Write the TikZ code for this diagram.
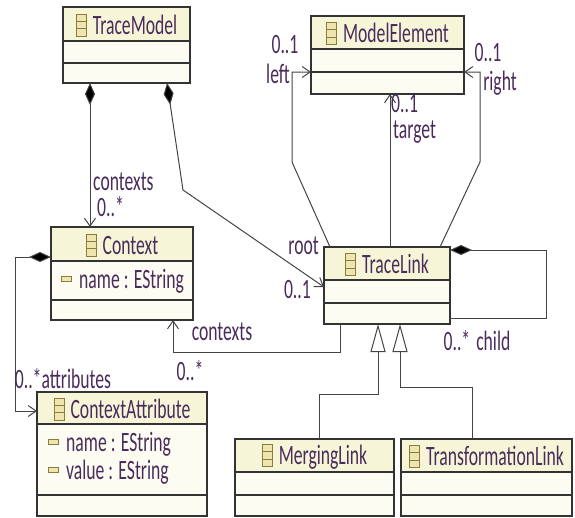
\documentclass[tikz,border=0pt]{standalone}
\usepackage{fontspec}
\setmainfont{Carlito}[FakeStretch=0.63]
\usetikzlibrary{arrows.meta,calc}
\definecolor{txt}{HTML}{4A2C5C}
\definecolor{hdrc}{HTML}{F7F5D8}
\definecolor{bodyc}{HTML}{FDFCF2}
\definecolor{icoc}{HTML}{8C7B3A}
\definecolor{icof}{HTML}{EDE6B0}
\definecolor{linec}{HTML}{333333}
\definecolor{connc}{HTML}{444444}
\newcommand\dfont{\fontsize{28}{30}\selectfont}
\newcommand\clsicon{\tikz[baseline={(0pt,2pt)}]{\draw[icoc,fill=icof,line width=1pt] (0pt,0pt) rectangle (10pt,22pt); \draw[icoc,line width=1pt] (0pt,7.3pt) -- (10pt,7.3pt) (0pt,14.7pt) -- (10pt,14.7pt);}}
\newcommand\attricon{\tikz[baseline={(0pt,-7pt)}]{\draw[icoc,fill=icof,line width=1pt] (0pt,0pt) rectangle (10pt,5pt);}}
\tikzset{
  clsbox/.style={draw=linec,fill=bodyc,line width=1.3pt,inner sep=0pt,outer sep=0pt},
  hdr/.style={fill=hdrc},
  boxline/.style={draw=linec,line width=1.3pt},
  ttl/.style={text=txt,inner sep=0pt,font=\dfont},
  lbl/.style={text=txt,inner sep=0pt,font=\dfont},
  conn/.style={draw=connc,line width=1pt},
  comp/.tip={Diamond[length=22pt,width=10pt,fill=black]},
  open/.tip={Straight Barb[length=8pt,width=11pt]},
  gen/.tip={Triangle[open,length=28pt,width=15pt,fill=white]}
}
% #1 name, #2 x1, #3 y1, #4 x2, #5 y2, #6 line1, #7 line2, #8 title
\newcommand\umlclass[8]{%
  \node[clsbox,minimum width={(#4-#2)*1pt},minimum height={(#5-#3)*1pt}] (#1) at ({(#2+#4)/2},{(#3+#5)/2}) {};
  \fill[hdr] (#2,#3) rectangle (#4,#6);
  \draw[boxline] (#2,#6) -- (#4,#6) (#2,#7) -- (#4,#7);
  \draw[boxline] (#1.north west) rectangle (#1.south east);
  \node[ttl] (#1-t) at ({(#2+#4)/2},{(#3+#6)/2+1}) {\clsicon\hspace{6pt}#8};
}
\begin{document}
\begin{tikzpicture}[x=1pt,y=-1pt]
\fill[white] (0,0) rectangle (575,517);
\useasboundingbox (0,0) rectangle (575,517);

\umlclass{tm}{63}{7}{190}{83}{41}{63}{TraceModel}
\umlclass{me}{311}{16}{464}{94}{49}{72}{ModelElement}
\umlclass{ctx}{51}{227}{193}{320}{261}{300}{Context}
\umlclass{ca}{37}{392}{207}{516}{424}{495}{ContextAttribute}
\umlclass{tl}{324}{247}{450}{324}{280}{303}{TraceLink}
\umlclass{ml}{235}{439}{394}{516}{472}{495}{MergingLink}
\umlclass{tfl}{401}{439}{572}{516}{472}{495}{TransformationLink}

% attributes
\node[ttl,anchor=west] (ctx-a1) at (61,281) {\attricon\hspace{7pt}name : EString};
\node[ttl,anchor=west] (ca-a1) at (48,444) {\attricon\hspace{7pt}name : EString};
\node[ttl,anchor=west] (ca-a2) at (48,472) {\attricon\hspace{7pt}value : EString};

% connectors
\draw[conn,{comp}-{open}] ($(tm.south west)+(27,0)$) -- ($(ctx.north west)+(39,0)$);
\draw[conn,{comp}-{open}] ($(tm.south west)+(104,0)$) -- (183,190) -- ($(tl.north west)+(0,40)$);
\draw[conn,-{open}] ($(tl.north west)+(6,0)$) -- (292,162) -- (292,72) -- ($(me.north west)+(0,56)$);
\draw[conn,-{open}] ($(tl.north west)+(66,0)$) -- ($(me.south west)+(79,0)$);
\draw[conn,-{open}] ($(tl.north east)+(-10,0)$) -- (480,162) -- (480,72) -- ($(me.north east)+(0,56)$);
\draw[conn,{comp}-] ($(tl.north east)+(0,3)$) -- (546,250) -- (546,318) -- ($(tl.south east)+(0,-6)$);
\draw[conn,-{open}] ($(tl.south west)+(16,0)$) -- (340,352) -- (173,352) -- ($(ctx.south west)+(122,0)$);
\draw[conn,{comp}-{open}] ($(ctx.north west)+(0,30)$) -- (15,257) -- (15,411) -- ($(ca.north west)+(0,19)$);
\draw[conn,-{gen}] ($(ml.north west)+(84,0)$) -- (319,394) -- (378,394) -- ($(tl.south west)+(54,0)$);
\draw[conn,-{gen}] ($(tfl.north west)+(71,0)$) -- (472,387) -- (400,387) -- ($(tl.south west)+(76,0)$);

% labels
\node[lbl,anchor=west] (l1) at (93,182) {contexts};
\node[lbl,anchor=west] (l2) at (97,207) {0..*};
\node[lbl,anchor=east] (l3) at (319,246) {root};
\node[lbl,anchor=east] (l4) at (311,290) {0..1};
\node[lbl] (l5) at (285,45) {0..1};
\node[lbl] (l6) at (278,74) {left};
\node[lbl,anchor=west] (l7) at (391,104) {0..1};
\node[lbl,anchor=west] (l8) at (393,132) {target};
\node[lbl] (l9) at (488,53) {0..1};
\node[lbl] (l10) at (500,83) {right};
\node[lbl] (l11) at (477,341) {0..*\hspace{6pt}child};
\node[lbl] (l12) at (222,332) {contexts};
\node[lbl] (l13) at (190,371) {0..*};
\node[lbl] (l14) at (63,379) {0..*attributes};
\end{tikzpicture}
\end{document}
